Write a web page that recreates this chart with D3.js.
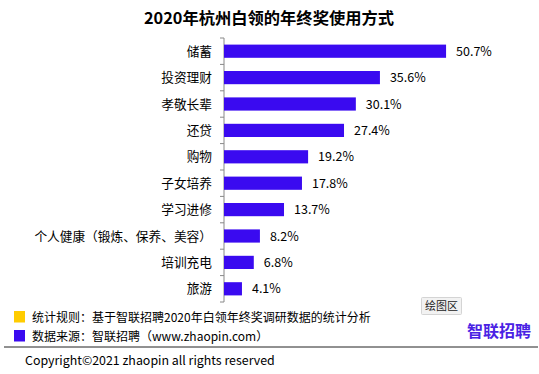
<!DOCTYPE html>
<html><head><meta charset="utf-8">
<script src="https://cdn.jsdelivr.net/npm/d3@7"></script>
<style>
body{margin:0;background:#fff;}
svg{display:block;font-family:"Noto Sans CJK SC","Noto Sans",sans-serif;}
</style></head>
<body>
<svg id="c" width="539" height="374"></svg>
<script>
const categories = ["储蓄","投资理财","孝敬长辈","还贷","购物","子女培养","学习进修","个人健康（锻炼、保养、美容）","培训充电","旅游"];
const values = [50.7,35.6,30.1,27.4,19.2,17.8,13.7,8.2,6.8,4.1];
const title = "2020年杭州白领的年终奖使用方式";
const notes = ["统计规则：基于智联招聘2020年白领年终奖调研数据的统计分析","数据来源：智联招聘（www.zhaopin.com）"];
const noteColors = ["#ffcc00","#3a0af0"];
const copyright = "Copyright©2021 zhaopin all rights reserved";

(function(){
const svg = d3.select("#c");
const barColor = "#3a0af0";
const x0 = 224, yTop = 38, yBot = 302;
const x = d3.scaleLinear().domain([0,60]).range([x0, x0 + 4.38*60]);
const y = d3.scaleBand().domain(categories).range([yTop,yBot]).paddingInner(0.5).paddingOuter(0.25);
const yb = d3.scaleBand().domain(categories).range([yTop,yBot]);

svg.append("text").attr("x",269).attr("y",24).attr("text-anchor","middle")
  .attr("font-size",16.3).attr("font-weight","bold").attr("fill","#000").text(title);

const g = svg.append("g");
g.append("line").attr("x1",x0).attr("x2",x0).attr("y1",yTop).attr("y2",yBot).attr("stroke","#888").attr("stroke-width",1);
const ticks = d3.range(categories.length+1).map(i=> yTop + i*yb.step());
g.selectAll(".tk").data(ticks).enter().append("line")
  .attr("x1",x0-4).attr("x2",x0).attr("y1",d=>d).attr("y2",d=>d).attr("stroke","#888");

g.selectAll(".bar").data(values).enter().append("rect")
  .attr("x",x0).attr("y",(d,i)=>y(categories[i]))
  .attr("width",d=>x(d)-x0).attr("height",y.bandwidth()).attr("fill",barColor);

g.selectAll(".lab").data(categories).enter().append("text")
  .attr("x",x0-12).attr("y",d=>yb(d)+yb.bandwidth()/2).attr("dy","0.36em")
  .attr("text-anchor","end").attr("font-size",12.7).attr("fill","#000").text(d=>d);

g.selectAll(".val").data(values).enter().append("text")
  .attr("x",d=>x(d)+10).attr("y",(d,i)=>yb(categories[i])+yb.bandwidth()/2).attr("dy","0.36em")
  .attr("font-size",12.5).attr("fill","#000").text(d=>d.toFixed(1)+"%");

notes.forEach((t,i)=>{
  const yy = 311 + i*19;
  svg.append("rect").attr("x",14).attr("y",yy).attr("width",11).attr("height",11.5).attr("fill",noteColors[i]);
  svg.append("text").attr("x",32).attr("y",yy+11).attr("font-size",12).attr("fill","#000").text(t);
});

const tb = svg.append("g");
tb.append("rect").attr("x",421.5).attr("y",297.5).attr("width",40).attr("height",17).attr("fill","#f2f2f2").attr("stroke","#d4d4d4").attr("rx",1);
tb.append("text").attr("x",441.5).attr("y",310).attr("text-anchor","middle").attr("font-size",11).attr("fill","#222").text("绘图区");

svg.append("text").attr("x",531).attr("y",337).attr("text-anchor","end").attr("font-size",16)
  .attr("font-weight","bold").attr("fill","#4a22e4").text("智联招聘");

svg.append("line").attr("x1",4).attr("x2",538).attr("y1",347).attr("y2",347).attr("stroke","#222").attr("stroke-width",1);
svg.append("text").attr("x",25).attr("y",365).attr("font-size",12.4).attr("fill","#000").text(copyright);
})();
</script>
</body></html>
